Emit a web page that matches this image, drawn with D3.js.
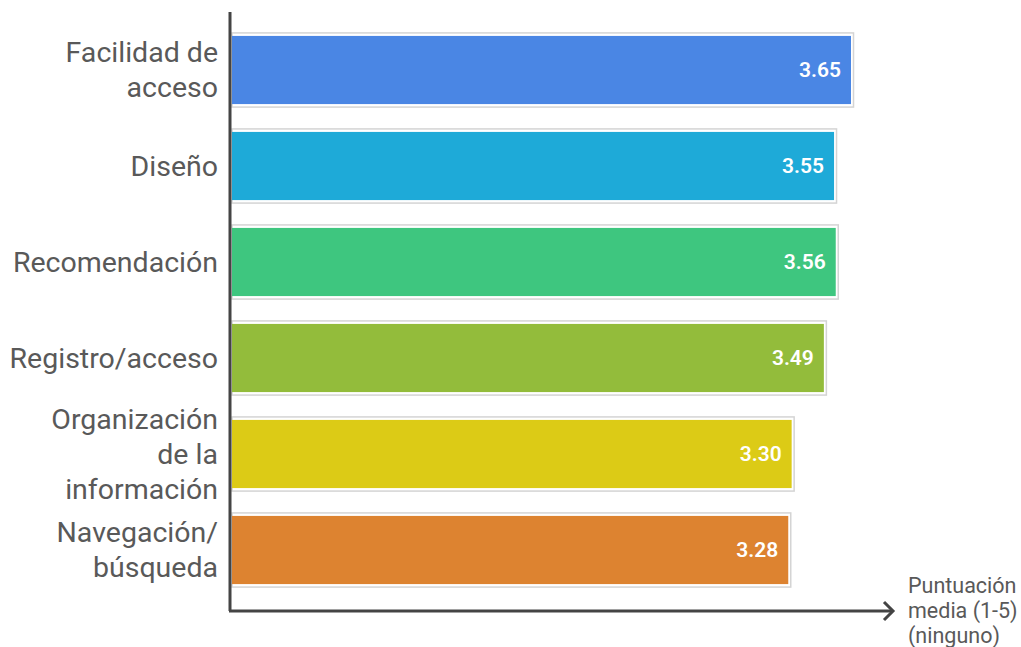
<!DOCTYPE html>
<html>
<head>
<meta charset="utf-8">
<script src="https://cdn.jsdelivr.net/npm/d3@7"></script>
<style>
  body { margin: 0; background: #fff; }
  text { font-family: Roboto, "Noto Sans", sans-serif; }
</style>
</head>
<body>
<script>
const categories = ['Facilidad de\nacceso', 'Diseño', 'Recomendación', 'Registro/acceso', 'Organización\nde la\ninformación', 'Navegación/\nbúsqueda']
const values = [3.65, 3.55, 3.56, 3.49, 3.30, 3.28]
const colors = ['#4a86e4', '#1eaad8', '#3ec67f', '#93bc3b', '#dccb16', '#dd8330']
const axisTitle = ['Puntuación', 'media (1-5)', '(ninguno)']

const width = 1021, height = 647
const left = 232, baseY = 611

const x = d3.scaleLinear()
    .domain([0, 3.65])
    .range([left, 851])

const y = d3.scaleBand()
    .domain(d3.range(categories.length))
    .range([22, 598])
    .paddingInner(0.29)
    .paddingOuter(0.145)

const svg = d3.select('body').append('svg').attr('width', width).attr('height', height)

// outer light border
svg.selectAll('rect.border')
    .data(values)
    .enter().append('rect')
        .attr('class', 'border')
        .attr('x', left)
        .attr('y', (d, i) => y(i) - 3)
        .attr('width', d => x(d) - left + 2.5)
        .attr('height', y.bandwidth() + 6)
        .attr('fill', '#fff')
        .attr('stroke', '#d4d4d4')
        .attr('stroke-width', 1.5)

svg.selectAll('rect.bar')
    .data(values)
    .enter().append('rect')
        .attr('class', 'bar')
        .attr('x', left)
        .attr('y', (d, i) => y(i))
        .attr('width', d => x(d) - left)
        .attr('height', y.bandwidth())
        .attr('fill', (d, i) => colors[i])

svg.selectAll('text.val')
    .data(values)
    .enter().append('text')
        .attr('class', 'val')
        .attr('x', d => x(d) - 10)
        .attr('y', (d, i) => y(i) + y.bandwidth() / 2)
        .attr('dy', '0.35em')
        .attr('text-anchor', 'end')
        .attr('fill', '#fff')
        .attr('font-size', 21)
        .attr('font-weight', 600)
        .text(d => d.toFixed(2))

const lineH = 35
svg.selectAll('text.cat')
    .data(categories)
    .enter().append('text')
        .attr('class', 'cat')
        .attr('text-anchor', 'end')
        .attr('fill', '#595959')
        .attr('font-size', 28.5)
        .each(function(d, i) {
            const lines = d.split('\n')
            const cy = y(i) + y.bandwidth() / 2
            const top = cy - (lines.length - 1) * lineH / 2
            d3.select(this).selectAll('tspan')
                .data(lines)
                .enter().append('tspan')
                    .attr('x', 218)
                    .attr('y', (l, j) => top + j * lineH)
                    .attr('dy', '0.35em')
                    .text(l => l)
        })

// axes
svg.append('line')
    .attr('x1', 230).attr('y1', 12)
    .attr('x2', 230).attr('y2', baseY)
    .attr('stroke', '#444').attr('stroke-width', 3)

svg.append('line')
    .attr('x1', 229).attr('y1', baseY)
    .attr('x2', 893).attr('y2', baseY)
    .attr('stroke', '#444').attr('stroke-width', 3)

svg.append('path')
    .attr('d', `M884,${baseY - 9} L893,${baseY} L884,${baseY + 9}`)
    .attr('fill', 'none')
    .attr('stroke', '#444').attr('stroke-width', 3)

svg.append('text')
    .attr('fill', '#595959')
    .attr('font-size', 21.5)
    .selectAll('tspan')
    .data(axisTitle)
    .enter().append('tspan')
        .attr('x', 908)
        .attr('y', (d, i) => 585 + i * 25)
        .attr('dy', '0.35em')
        .text(d => d)
</script>
</body>
</html>
